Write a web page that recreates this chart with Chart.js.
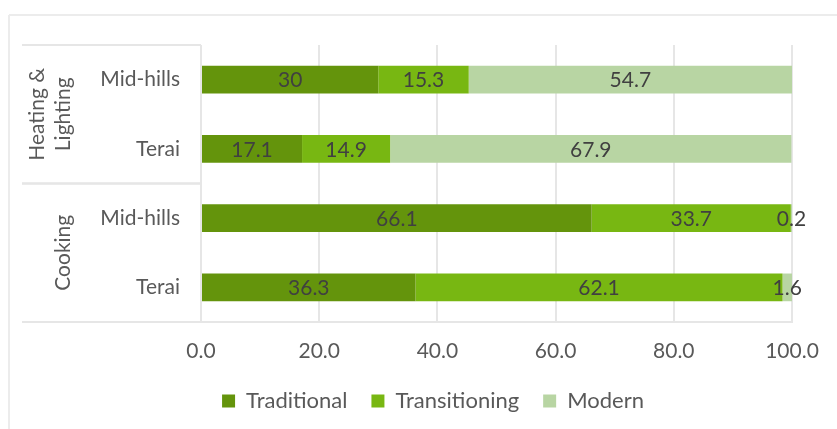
<!DOCTYPE html>
<html>
<head>
<meta charset="utf-8">
<script src="https://cdn.jsdelivr.net/npm/chart.js@4/dist/chart.umd.min.js"></script>
<style>
  html, body { margin: 0; padding: 0; background: #ffffff; }
  #wrap { width: 837px; height: 429px; position: relative; }
</style>
</head>
<body>
<div id="wrap"><canvas id="chart"></canvas></div>
<script>
const rowLabels = ["Mid-hills", "Terai", "Mid-hills", "Terai"];
const groups = [
  { name: ["Heating &", "Lighting"], rows: 2 },
  { name: ["Cooking"], rows: 2 }
];
const traditional = [30, 17.1, 66.1, 36.3];
const transitioning = [15.3, 14.9, 33.7, 62.1];
const modern = [54.7, 67.9, 0.2, 1.6];
const xTicks = [0, 20, 40, 60, 80, 100];

const font = "Lato, 'Open Sans', sans-serif";
const fontSize = 21;
const axisText = "#595959";
const barText = "#404040";
const lineColor = "#e6e6e6";

Chart.defaults.font.family = font;
Chart.defaults.font.size = fontSize;

// values written in the middle of each segment
const segmentLabels = {
  id: "segmentLabels",
  afterDatasetsDraw(chart) {
    const ctx = chart.ctx;
    ctx.save();
    ctx.font = fontSize + "px " + font;
    ctx.fillStyle = barText;
    ctx.textAlign = "center";
    ctx.textBaseline = "middle";
    chart.data.datasets.forEach((ds, i) => {
      chart.getDatasetMeta(i).data.forEach((bar, j) => {
        ctx.fillText(String(ds.data[j]), (bar.x + bar.base) / 2, bar.y + 1);
      });
    });
    ctx.restore();
  }
};

// frame, group separators and rotated group names
const groupAxis = {
  id: "groupAxis",
  afterLayout(chart) {
    // legend sits a little right of the canvas centre
    chart.legend.left += 37;
    chart.legend.right += 37;
  },
  beforeDraw(chart) {
    const ctx = chart.ctx;
    const area = chart.chartArea;
    const y = chart.scales.y;
    const step = y.getPixelForValue(1) - y.getPixelForValue(0);
    ctx.save();
    ctx.strokeStyle = "#ececec";
    ctx.lineWidth = 2;
    ctx.beginPath();
    ctx.moveTo(9, 15);
    ctx.lineTo(837, 15);
    ctx.moveTo(9, 15);
    ctx.lineTo(9, 429);
    ctx.stroke();

    ctx.strokeStyle = lineColor;
    let start = 0;
    groups.forEach((g) => {
      const top = y.getPixelForValue(start) - step / 2;
      const bottom = y.getPixelForValue(start + g.rows - 1) + step / 2;
      ctx.beginPath();
      ctx.moveTo(22, top);
      ctx.lineTo(area.left, top);
      ctx.moveTo(22, bottom);
      ctx.lineTo(area.left, bottom);
      ctx.stroke();

      ctx.save();
      ctx.translate(63, (top + bottom) / 2);
      ctx.rotate(-Math.PI / 2);
      ctx.font = fontSize + "px " + font;
      ctx.fillStyle = axisText;
      ctx.textAlign = "center";
      ctx.textBaseline = "middle";
      const n = g.name.length;
      g.name.forEach((line, k) => {
        ctx.fillText(line, 0, -(n - 1 - k) * 26);
      });
      ctx.restore();
      start += g.rows;
    });
    ctx.restore();
  }
};

new Chart(document.getElementById("chart"), {
  type: "bar",
  data: {
    labels: rowLabels,
    datasets: [
      { label: "Traditional", data: traditional, backgroundColor: "#64940c" },
      { label: "Transitioning", data: transitioning, backgroundColor: "#78b712" },
      { label: "Modern", data: modern, backgroundColor: "#b8d5a3" }
    ]
  },
  options: {
    indexAxis: "y",
    responsive: true,
    maintainAspectRatio: false,
    animation: false,
    datasets: { bar: { barPercentage: 1, categoryPercentage: 0.4 } },
    layout: { padding: { top: 45, right: 45, left: 0, bottom: 7 } },
    plugins: {
      tooltip: { enabled: false },
      legend: {
        position: "bottom",
        labels: {
          color: axisText,
          boxWidth: 13,
          boxHeight: 13,
          padding: 24,
          font: { size: 22 }
        }
      }
    },
    scales: {
      x: {
        stacked: true,
        min: 0,
        max: 100,
        afterBuildTicks: (axis) => { axis.ticks = xTicks.map((v) => ({ value: v })); },
        grid: { color: lineColor, lineWidth: 2, drawTicks: false },
        border: { display: true, color: lineColor, width: 2 },
        ticks: {
          color: axisText,
          padding: 17,
          font: { size: fontSize },
          callback: (v) => Number(v).toFixed(1)
        },
        afterFit: (axis) => { axis.height = 44; }
      },
      y: {
        stacked: true,
        grid: { display: false, drawTicks: false },
        border: { display: false },
        ticks: { color: axisText, padding: 21, font: { size: fontSize } },
        afterFit: (axis) => { axis.width = 201; }
      }
    }
  },
  plugins: [segmentLabels, groupAxis]
});
</script>
</body>
</html>
